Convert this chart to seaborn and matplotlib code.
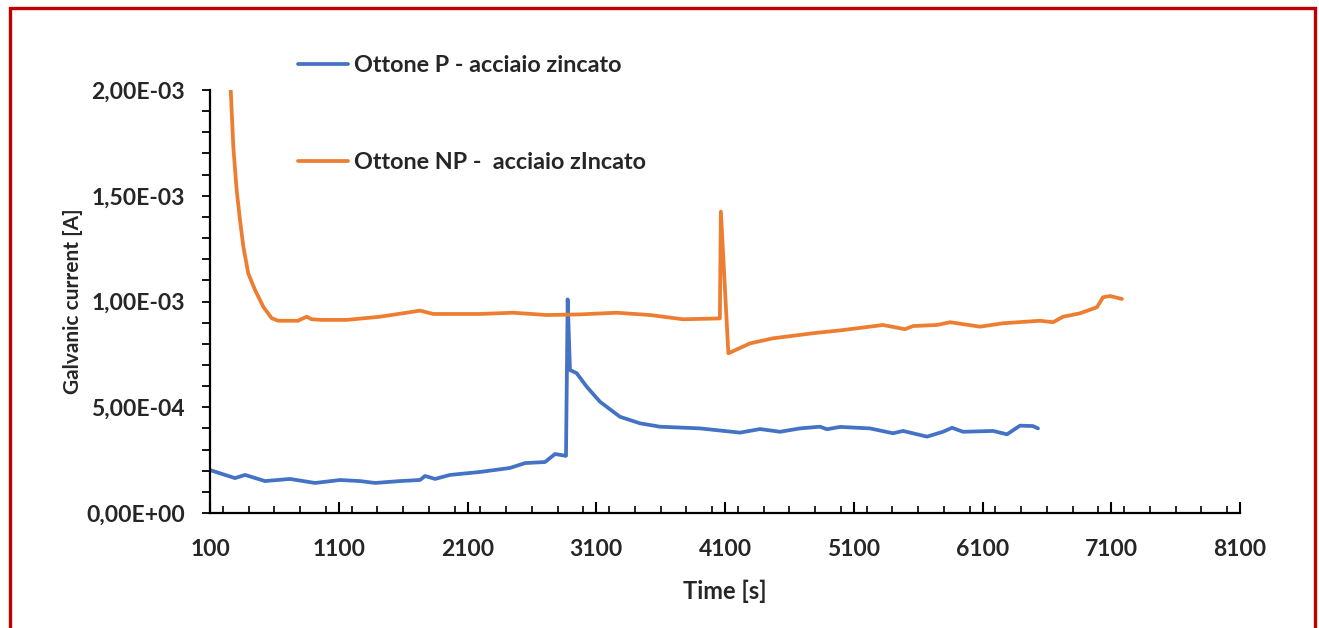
import numpy as np
import pandas as pd
import matplotlib
matplotlib.use("Agg")
import matplotlib.pyplot as plt
import seaborn as sns
from matplotlib.ticker import MultipleLocator, FuncFormatter
from matplotlib.patches import Rectangle

# ---------------- data ----------------
series_p = "Ottone P - acciaio zincato"
series_np = "Ottone NP -  acciaio zIncato"

time_p = [100, 294, 372, 527, 721, 916, 1110, 1265, 1382, 1576, 1731, 1770, 1848,
          1964, 2197, 2430, 2547, 2702, 2780, 2865, 2878, 2896, 2948, 3026, 3129,
          3284, 3440, 3595, 3906, 4217, 4372, 4527, 4683, 4838, 4892, 4993, 5226,
          5405, 5483, 5669, 5793, 5863, 5949, 6182, 6290, 6391, 6492, 6531]
current_p = [2.03e-4, 1.65e-4, 1.80e-4, 1.51e-4, 1.61e-4, 1.42e-4, 1.56e-4, 1.51e-4,
             1.42e-4, 1.51e-4, 1.56e-4, 1.75e-4, 1.61e-4, 1.80e-4, 1.94e-4, 2.13e-4,
             2.36e-4, 2.41e-4, 2.79e-4, 2.70e-4, 1.010e-3, 6.76e-4, 6.61e-4, 5.97e-4,
             5.26e-4, 4.55e-4, 4.24e-4, 4.08e-4, 4.00e-4, 3.80e-4, 3.97e-4, 3.84e-4,
             4.00e-4, 4.08e-4, 3.96e-4, 4.07e-4, 4.00e-4, 3.77e-4, 3.88e-4, 3.61e-4,
             3.84e-4, 4.03e-4, 3.84e-4, 3.88e-4, 3.72e-4, 4.13e-4, 4.11e-4, 4.00e-4]

time_np = [261, 281, 307, 333, 359, 397, 450, 514, 579, 630, 783, 851, 890, 968,
           1162, 1420, 1628, 1731, 1834, 2197, 2453, 2715, 2974, 3259, 3518, 3774,
           4060, 4068, 4126, 4294, 4473, 4784, 5017, 5327, 5498, 5560, 5747, 5848,
           6081, 6259, 6547, 6648, 6725, 6857, 6989, 7036, 7090, 7183]
current_np = [2.000e-3, 1.732e-3, 1.527e-3, 1.385e-3, 1.259e-3, 1.133e-3, 1.054e-3,
              0.975e-3, 0.921e-3, 0.909e-3, 0.909e-3, 0.928e-3, 0.916e-3, 0.913e-3,
              0.913e-3, 0.928e-3, 0.947e-3, 0.957e-3, 0.941e-3, 0.941e-3, 0.947e-3,
              0.936e-3, 0.939e-3, 0.947e-3, 0.936e-3, 0.916e-3, 0.920e-3, 1.425e-3,
              0.755e-3, 0.802e-3, 0.826e-3, 0.850e-3, 0.865e-3, 0.889e-3, 0.869e-3,
              0.884e-3, 0.889e-3, 0.902e-3, 0.881e-3, 0.897e-3, 0.909e-3, 0.902e-3,
              0.928e-3, 0.944e-3, 0.973e-3, 1.020e-3, 1.026e-3, 1.012e-3]

x_ticks = [100, 1100, 2100, 3100, 4100, 5100, 6100, 7100, 8100]
y_ticks = [0.0, 5e-4, 1e-3, 1.5e-3, 2e-3]

colors = {series_p: "#4472C4", series_np: "#ED7D31"}

df = pd.concat([
    pd.DataFrame({"time": time_p, "current": current_p, "series": series_p}),
    pd.DataFrame({"time": time_np, "current": current_np, "series": series_np}),
], ignore_index=True)

# ---------------- style ----------------
sns.set_theme(style="white")
plt.rcParams["font.family"] = ["Lato", "DejaVu Sans"]
plt.rcParams["font.weight"] = "bold"

W, H = 1319, 628
fig = plt.figure(figsize=(W / 100, H / 100), dpi=100)
fig.patch.set_facecolor("white")
ax = fig.add_axes([210 / W, 1 - 513 / H, 1030 / W, 423 / H])

sns.lineplot(data=df, x="time", y="current", hue="series", palette=colors,
             sort=False, estimator=None, linewidth=2.7, ax=ax, legend=False)

ax.set_xlim(x_ticks[0], x_ticks[-1])
ax.set_ylim(y_ticks[0], y_ticks[-1])
ax.set_xticks(x_ticks)
ax.set_yticks(y_ticks)
ax.xaxis.set_minor_locator(MultipleLocator(200))
ax.yaxis.set_minor_locator(MultipleLocator(1e-4))
ax.yaxis.set_major_formatter(FuncFormatter(lambda v, p: f"{v:.2E}".replace(".", ",")))

ax.tick_params(axis="x", which="major", direction="in", length=8, width=1.5,
               pad=19, labelsize=16.5, color="black", bottom=True)
ax.tick_params(axis="x", which="minor", direction="in", length=5, width=1.2,
               color="black", bottom=True)
ax.tick_params(axis="y", which="both", direction="out", length=6, width=1.3,
               pad=12, labelsize=16.5, color="black", left=True)
for lab in ax.get_xticklabels() + ax.get_yticklabels():
    lab.set_fontweight("bold")

sns.despine(ax=ax)
for s in ["left", "bottom"]:
    ax.spines[s].set_color("black")
    ax.spines[s].set_linewidth(1.6)

ax.set_xlabel("Time [s]", fontsize=17, fontweight="bold")
ax.set_ylabel("Galvanic current [A]", fontsize=15, fontweight="bold")
ax.xaxis.set_label_coords(0.5, (513 - 580) / 423)
ax.yaxis.set_label_coords((83 - 210) / 1030, 0.5)

handles = ax.get_lines()[:2]
fig.legend(handles, [series_p, series_np], loc="upper left",
           bbox_to_anchor=(298 / W, 1 - 55 / H), frameon=False,
           prop={"size": 16.8, "weight": "bold"}, handlelength=2.15,
           handletextpad=0.25, labelspacing=3.25, borderpad=0, borderaxespad=0)

# red frame around the figure
fig.patches.append(Rectangle((10 / W, -0.05), (1315 - 10) / W, 1 - 8 / H + 0.05,
                             transform=fig.transFigure, fill=False,
                             edgecolor="#C00000", linewidth=2.4, zorder=10))

fig.savefig("out.png", dpi=100, facecolor="white")
